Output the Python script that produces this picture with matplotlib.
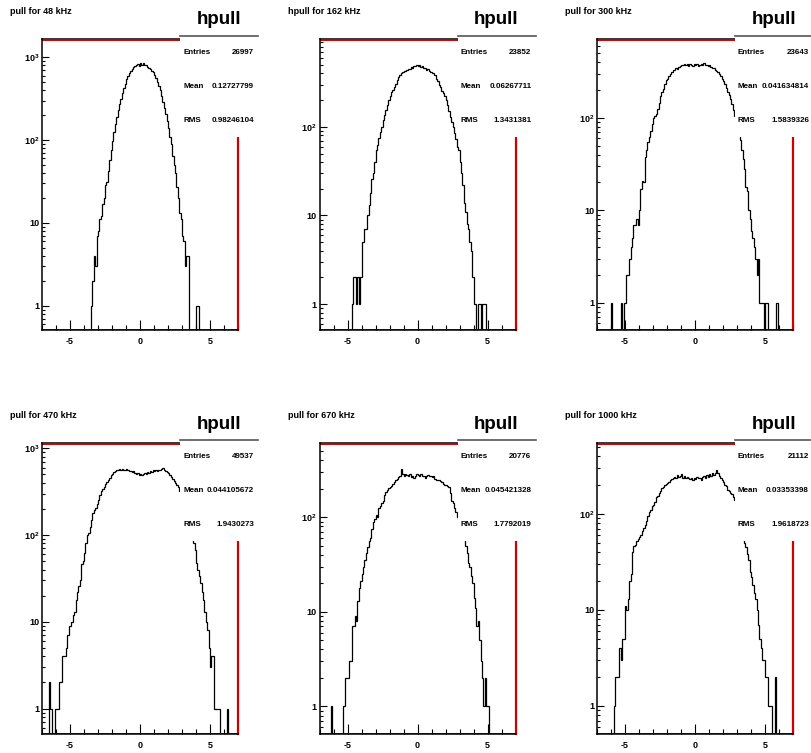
import numpy as np
import matplotlib
matplotlib.use("Agg")
import matplotlib.pyplot as plt
import matplotlib.transforms as mtransforms
from matplotlib.lines import Line2D
from matplotlib.ticker import FixedLocator, MultipleLocator, LogLocator, FuncFormatter, NullFormatter

plt.rcParams["font.family"] = ["Liberation Sans", "DejaVu Sans"]
plt.rcParams["font.weight"] = "bold"
plt.rcParams["axes.unicode_minus"] = False
plt.rcParams["mathtext.fontset"] = "custom"
plt.rcParams["mathtext.bf"] = "Liberation Sans:bold"
plt.rcParams["mathtext.rm"] = "Liberation Sans:bold"
plt.rcParams["mathtext.default"] = "bf"

# --- data: one histogram per frequency, bins of 0.1 starting at the given left edge ---
titles = ["pull for 48 kHz", "hpull for 162 kHz", "pull for 300 kHz",
          "pull for 470 kHz", "pull for 670 kHz", "pull for 1000 kHz"]
entries = ["26997", "23852", "23643", "49537", "20776", "21112"]
means = ["0.12727799", "0.06267711", "0.041634814", "0.044105672", "0.045421328", "0.03353398"]
rms = ["0.98246104", "1.3431381", "1.5839326", "1.9430273", "1.7792019", "1.9618723"]

start_48 = -3.5
counts_48 = [1, 2, 4, 3, 7, 8, 11, 12, 17, 20,
             29, 31, 42, 58, 75, 98, 125, 155, 190, 230,
             270, 315, 370, 420, 480, 540, 600, 650, 690, 730,
             760, 790, 800, 830, 790, 860, 810, 850, 800, 810,
             770, 750, 720, 690, 660, 610, 560, 500, 450, 400,
             340, 290, 245, 205, 170, 140, 110, 90, 65, 50,
             40, 27, 20, 13, 11, 7, 6, 3, 4, 4,
             0, 0, 0, 0, 0, 1, 1]

start_162 = -4.7
counts_162 = [1, 2, 2, 1, 2, 1, 2, 5, 5, 7,
              7, 10, 13, 18, 26, 30, 40, 55, 62, 75,
              88, 100, 118, 135, 155, 175, 200, 222, 245, 262,
              285, 305, 335, 365, 380, 410, 415, 430, 425, 440,
              450, 455, 470, 465, 490, 480, 505, 480, 500, 470,
              485, 460, 465, 440, 445, 430, 420, 410, 400, 380,
              350, 330, 300, 280, 255, 240, 220, 200, 175, 150,
              130, 112, 100, 85, 72, 60, 55, 40, 30, 22,
              14, 11, 8, 7, 5, 4, 2, 1, 1, 0,
              1, 1, 0, 1, 1, 1]

start_300 = -6.0
counts_300 = [1, 0, 0, 0, 0, 0, 0, 1, 0, 1,
              1, 2, 2, 3, 4, 5, 7, 7, 8, 7,
              10, 17, 21, 20, 38, 45, 55, 62, 72, 85,
              100, 105, 110, 125, 145, 170, 190, 205, 230, 255,
              265, 285, 300, 310, 325, 330, 345, 340, 355, 360,
              375, 370, 385, 370, 380, 360, 385, 375, 360, 380,
              370, 385, 365, 375, 380, 370, 390, 370, 375, 365,
              370, 355, 345, 345, 330, 320, 310, 295, 280, 265,
              250, 230, 210, 190, 175, 160, 140, 120, 105, 95,
              82, 70, 58, 45, 36, 28, 18, 16, 10, 8,
              6, 5, 4, 3, 2, 3, 1, 1, 1, 0,
              1, 1, 0, 0, 0, 0, 0, 0, 1]

start_470 = -6.5
counts_470 = [2, 1, 0, 0, 1, 1, 1, 2, 2, 4,
              4, 4, 5, 7, 9, 9, 10, 12, 13, 18,
              22, 26, 30, 46, 50, 62, 80, 100, 105, 125,
              150, 180, 195, 205, 225, 255, 290, 320, 335, 360,
              385, 410, 430, 460, 490, 505, 530, 540, 560, 565,
              570, 555, 575, 565, 560, 570, 555, 545, 550, 530,
              540, 520, 505, 525, 495, 510, 490, 500, 520, 510,
              535, 520, 545, 530, 555, 545, 560, 550, 565, 560,
              580, 595, 560, 545, 530, 520, 495, 470, 445, 420,
              400, 375, 355, 320, 290, 255, 220, 190, 165, 140,
              118, 100, 88, 80, 68, 48, 40, 34, 28, 22,
              18, 13, 10, 8, 5, 3, 4, 4, 1, 1,
              1, 1, 0, 0, 0, 0, 0, 1]

start_670 = -6.2
counts_670 = [1, 0, 0, 0, 0, 0, 0, 0, 0, 1,
              2, 2, 2, 3, 3, 7, 7, 9, 8, 13,
              18, 21, 25, 30, 35, 42, 48, 56, 60, 75,
              90, 95, 105, 100, 125, 130, 140, 150, 170, 185,
              195, 205, 210, 215, 225, 235, 245, 255, 265, 270,
              320, 285, 275, 290, 280, 270, 285, 265, 275, 260,
              270, 285, 280, 270, 285, 270, 275, 260, 270, 280,
              270, 275, 265, 275, 255, 250, 245, 250, 240, 235,
              225, 220, 220, 215, 210, 180, 150, 140, 125, 115,
              100, 95, 85, 75, 65, 58, 50, 42, 33, 30,
              24, 20, 14, 11, 7, 8, 5, 3, 2, 1,
              2, 1, 1]

start_1000 = -5.8
counts_1000 = [1, 2, 2, 2, 4, 3, 5, 5, 11, 10,
               13, 20, 24, 40, 46, 48, 52, 55, 58, 60,
               66, 72, 76, 85, 95, 105, 110, 120, 125, 135,
               150, 155, 165, 175, 185, 190, 200, 205, 210, 215,
               225, 230, 240, 245, 240, 255, 245, 250, 260, 240,
               250, 235, 245, 240, 230, 240, 225, 235, 230, 245,
               235, 240, 225, 245, 250, 240, 255, 245, 260, 250,
               265, 255, 270, 285, 265, 250, 240, 225, 215, 200,
               195, 180, 175, 165, 160, 150, 140, 130, 115, 100,
               85, 70, 58, 50, 45, 38, 33, 25, 22, 18,
               15, 13, 10, 7, 5, 4, 3, 3, 2, 2,
               1, 1, 1, 0, 0, 2]

starts = [start_48, start_162, start_300, start_470, start_670, start_1000]
counts = [counts_48, counts_162, counts_300, counts_470, counts_670, counts_1000]
ymax = [1660, 980, 710, 1150, 610, 550]

W, H = 811, 753
fig = plt.figure(figsize=(W / 100, H / 100), dpi=100)


def rect(x, y, w, h):
    # pixel box (origin top-left) -> figure fraction
    return [x / W, 1 - (y + h) / H, w / W, h / H]


def shifted(ax, dx, dy):
    return ax.transAxes + mtransforms.ScaledTranslation(dx / 100, dy / 100, fig.dpi_scale_trans)


def ylab(v, pos):
    if v < 5:
        return "1"
    if v < 50:
        return "10"
    return r"$\mathbf{10^{%d}}$" % round(np.log10(v))


col_off = [0, 277.5, 555]
row_off = [0, 404]

for i in range(6):
    ox = col_off[i % 3]
    oy = row_off[i // 3]

    ax = fig.add_axes(rect(ox + 42, oy + 39, 196, 291))
    vals = np.array(counts[i], dtype=float)
    edges = starts[i] + 0.1 * np.arange(len(vals) + 1)
    ax.stairs(vals, edges, color="black", lw=0.9)

    ax.set_xlim(-7, 7)
    ax.set_yscale("log")
    ax.set_ylim(0.51, ymax[i])

    ax.xaxis.set_major_locator(FixedLocator([-5, 0, 5]))
    ax.xaxis.set_minor_locator(MultipleLocator(1))
    ax.yaxis.set_major_locator(LogLocator(base=10, numticks=10))
    ax.yaxis.set_minor_locator(LogLocator(base=10, subs=np.arange(2, 10), numticks=20))
    ax.yaxis.set_major_formatter(FuncFormatter(ylab))
    ax.yaxis.set_minor_formatter(NullFormatter())
    ax.tick_params(which="both", direction="in", top=False, right=False, width=0.8, labelsize=6.5)
    ax.tick_params(axis="x", which="major", length=7, pad=5)
    ax.tick_params(axis="x", which="minor", length=3.5)
    ax.tick_params(axis="y", which="major", length=5, pad=2)
    ax.tick_params(axis="y", which="minor", length=2.5)

    for side in ["left", "top", "bottom"]:
        ax.spines[side].set_color("black")
        ax.spines[side].set_linewidth(1.1)
    ax.spines["right"].set_color("#d00000")
    ax.spines["right"].set_linewidth(1.6)
    ax.plot([0, 1], [1, 1], transform=shifted(ax, 0, -1.2), color="#d00000", lw=0.7, clip_on=False)
    ax.plot([0, 1], [0, 0], transform=shifted(ax, 0, 1.2), color="#d00000", lw=0.7, clip_on=False)

    # title of the pad
    fig.text((ox + 10) / W, 1 - (oy + 12) / H, titles[i], fontsize=6.5, weight="bold", va="center")

    # stats box
    sa = fig.add_axes(rect(ox + 180, oy + 4, 78, 133))
    sa.set_zorder(5)
    sa.set_xticks([])
    sa.set_yticks([])
    for s in sa.spines.values():
        s.set_visible(False)
    fig.text((ox + 219) / W, 1 - (oy + 20) / H, "hpull", fontsize=13.5, weight="bold",
             ha="center", va="center", zorder=10)
    fig.add_artist(Line2D([(ox + 180) / W, (ox + 258) / W], [1 - (oy + 36) / H] * 2,
                          color="#555555", lw=1.2, zorder=10))
    for lab, val, yy in [("Entries", entries[i], 53), ("Mean", means[i], 87), ("RMS", rms[i], 121)]:
        fig.text((ox + 183) / W, 1 - (oy + yy) / H, lab, fontsize=5.8, weight="bold",
                 ha="left", va="center", zorder=10)
        fig.text((ox + 254) / W, 1 - (oy + yy) / H, val, fontsize=5.8, weight="bold",
                 ha="right", va="center", zorder=10)

fig.savefig("out.png", dpi=100)
